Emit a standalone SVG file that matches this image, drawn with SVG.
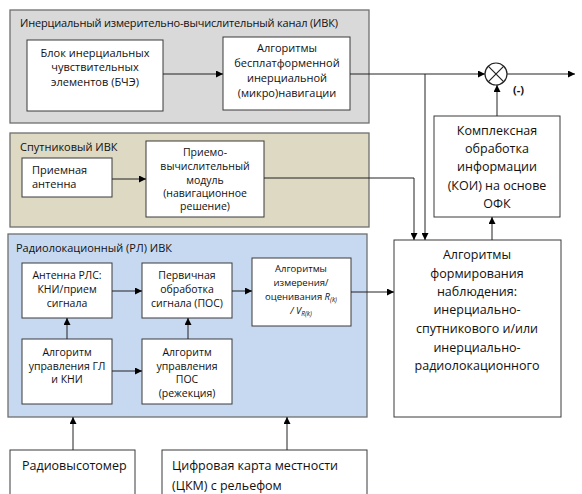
<svg xmlns="http://www.w3.org/2000/svg" width="582" height="494" viewBox="0 0 582 494">
<defs>
<marker id="ah" viewBox="0 0 10 10" refX="10" refY="5" markerWidth="7" markerHeight="7" markerUnits="userSpaceOnUse" orient="auto">
<path d="M0,0 L10,5 L0,10 z" fill="#000"/>
</marker>
<style>
.grp{stroke:#6f6f6f;stroke-width:1.3}
.box{fill:#fff;stroke:#3a3a3a;stroke-width:1}
.t{font-family:"Open Sans","Noto Sans",sans-serif;font-size:11px;fill:#111}
.s{font-size:10.5px}
.m{font-size:9.5px}
.c{text-anchor:middle}
.big{font-size:12.5px}
.ar{fill:none;stroke:#222;stroke-width:1;marker-end:url(#ah)}
</style>
</defs>
<rect width="582" height="494" fill="#fff"/>

<g id="grp-inertial">
<rect class="grp" x="10" y="10" width="359" height="113" fill="#d9d9d9"/>
<text class="t" x="20" y="27" textLength="318" lengthAdjust="spacing">Инерциальный измерительно-вычислительный канал (ИВК)</text>
</g>
<g id="grp-satellite">
<rect class="grp" x="10" y="133" width="359" height="94" fill="#ddd9c3"/>
<text class="t" x="20" y="151">Спутниковый ИВК</text>
</g>
<g id="grp-radar">
<rect class="grp" x="8" y="234" width="359" height="183" fill="#c6d9f1"/>
<text class="t" x="16" y="252">Радиолокационный (РЛ) ИВК</text>
</g>

<g id="n-bche">
<rect class="box" x="27" y="40" width="136" height="71"/>
<text class="t c" x="95" y="57">Блок инерциальных</text>
<text class="t c" x="95" y="71">чувствительных</text>
<text class="t c" x="95" y="86">элементов (БЧЭ)</text>
</g>
<g id="n-bins">
<rect class="box" x="223" y="37" width="127" height="73"/>
<text class="t c" x="287" y="52">Алгоритмы</text>
<text class="t c" x="287" y="67">бесплатформенной</text>
<text class="t c" x="287" y="82">инерциальной</text>
<text class="t c" x="287" y="97">(микро)навигации</text>
</g>
<g id="n-sum">
<circle cx="496" cy="74" r="11" fill="#fff" stroke="#222" stroke-width="1.2"/>
<path d="M488.2,66.2 L503.8,81.8 M503.8,66.2 L488.2,81.8" stroke="#222" stroke-width="1.2"/>
<text class="t" x="513" y="94" font-weight="bold">(-)</text>
</g>
<g id="n-koi">
<rect class="box" x="434" y="116" width="126" height="101"/>
<text class="t c big" x="497" y="135">Комплексная</text>
<text class="t c big" x="497" y="153">обработка</text>
<text class="t c big" x="497" y="171">информации</text>
<text class="t c big" x="497" y="190">(КОИ) на основе</text>
<text class="t c big" x="497" y="208">ОФК</text>
</g>
<g id="n-antenna">
<rect class="box" x="22" y="158" width="90" height="39"/>
<text class="t" x="32" y="174">Приемная</text>
<text class="t" x="32" y="188">антенна</text>
</g>
<g id="n-receiver">
<rect class="box" x="146" y="141" width="118" height="76"/>
<text class="t c s" x="205" y="156">Приемо-</text>
<text class="t c s" x="205" y="170">вычислительный</text>
<text class="t c s" x="205" y="184">модуль</text>
<text class="t c s" x="205" y="197">(навигационное</text>
<text class="t c s" x="205" y="210">решение)</text>
</g>
<g id="n-rls">
<rect class="box" x="22" y="263" width="90" height="55"/>
<text class="t c s" x="67" y="279">Антенна РЛС:</text>
<text class="t c s" x="67" y="293">КНИ/прием</text>
<text class="t c s" x="67" y="307">сигнала</text>
</g>
<g id="n-pos">
<rect class="box" x="142" y="263" width="90" height="55"/>
<text class="t c s" x="187" y="279">Первичная</text>
<text class="t c s" x="187" y="293">обработка</text>
<text class="t c s" x="187" y="307">сигнала (ПОС)</text>
</g>
<g id="n-meas">
<rect class="box" x="252" y="258" width="99" height="68"/>
<text class="t c m" x="301" y="272">Алгоритмы</text>
<text class="t c m" x="301" y="286">измерения/</text>
<text class="t c m" x="301" y="300">оценивания <tspan font-style="italic">R</tspan><tspan font-style="italic" font-size="6.5" dy="1.5">(k)</tspan></text>
<text class="t c m" x="301" y="314" font-style="italic">/ V<tspan font-size="6.5" dy="1.5">R(k)</tspan></text>
</g>
<g id="n-ctrl-gl">
<rect class="box" x="22" y="339" width="90" height="65"/>
<text class="t c s" x="67" y="356">Алгоритм</text>
<text class="t c s" x="67" y="369.5">управления ГЛ</text>
<text class="t c s" x="67" y="383">и КНИ</text>
</g>
<g id="n-ctrl-pos">
<rect class="box" x="142" y="339" width="90" height="65"/>
<text class="t c s" x="187" y="356">Алгоритм</text>
<text class="t c s" x="187" y="369.5">управления</text>
<text class="t c s" x="187" y="383">ПОС</text>
<text class="t c s" x="187" y="396.5">(режекция)</text>
</g>
<g id="n-form">
<rect class="box" x="394" y="240" width="167" height="177"/>
<text class="t c big" x="477" y="259">Алгоритмы</text>
<text class="t c big" x="477" y="278">формирования</text>
<text class="t c big" x="477" y="296">наблюдения:</text>
<text class="t c big" x="477" y="314">инерциально-</text>
<text class="t c big" x="477" y="333">спутникового и/или</text>
<text class="t c big" x="477" y="352">инерциально-</text>
<text class="t c big" x="477" y="370">радиолокационного</text>
</g>
<g id="n-radioalt">
<rect class="box" x="10" y="450" width="125" height="60"/>
<text class="t big" x="22" y="470">Радиовысотомер</text>
</g>
<g id="n-map">
<rect class="box" x="162" y="450" width="205" height="60"/>
<text class="t big" x="172" y="470">Цифровая карта местности</text>
<text class="t big" x="172" y="490">(ЦКМ) с рельефом</text>
</g>

<g id="connectors">
<path class="ar" d="M163,74 H223"/>
<path class="ar" d="M350,74 H485"/>
<path class="ar" d="M507,74 H575"/>
<path class="ar" d="M425,74 V240"/>
<path class="ar" d="M497,116 V85"/>
<path class="ar" d="M492,240 V217"/>
<path class="ar" d="M112,179 H146"/>
<path class="ar" d="M264,178 H414 V240"/>
<path class="ar" d="M112,291 H142"/>
<path class="ar" d="M232,291 H252"/>
<path class="ar" d="M351,292 H394"/>
<path class="ar" d="M67,339 V318"/>
<path class="ar" d="M188,339 V318"/>
<path class="ar" d="M112,371 H142"/>
<path class="ar" d="M73,450 V417"/>
<path class="ar" d="M287,450 V417"/>
</g>
</svg>
